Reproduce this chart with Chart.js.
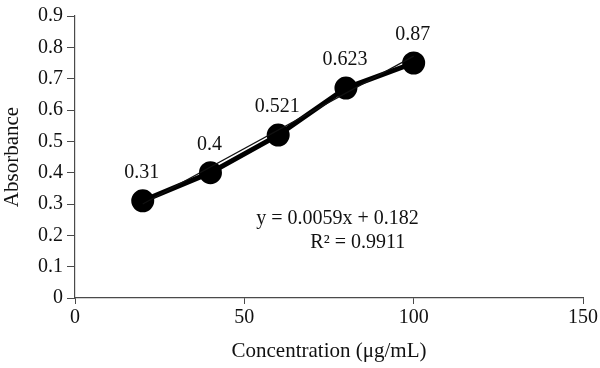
<!DOCTYPE html>
<html>
<head>
<meta charset="utf-8">
<script src="https://cdn.jsdelivr.net/npm/chart.js@4/dist/chart.umd.min.js"></script>
<style>
  html, body { margin: 0; padding: 0; background: #fff; }
  #wrap { width: 600px; height: 368px; }
</style>
</head>
<body>
<div id="wrap"><canvas id="chart"></canvas></div>
<script>
// Calibration curve: absorbance vs concentration, with linear trendline.
const concentration = [20, 40, 60, 80, 100];
const absorbance = [0.31, 0.40, 0.52, 0.67, 0.75];
const pointLabels = ['0.31', '0.4', '0.521', '0.623', '0.87'];
const trendSlope = 0.0059;
const trendIntercept = 0.182;
const equationLines = ['y = 0.0059x + 0.182', 'R² = 0.9911'];

const SERIF = '"Liberation Serif", "DejaVu Serif", serif';
const AXIS = '#4a4a4a';
const FONT_SIZE = 20;

const measured = concentration.map((x, i) => ({ x, y: absorbance[i] }));
const xFirst = concentration[0];
const xLast = concentration[concentration.length - 1];
const trend = [
  { x: xFirst, y: trendSlope * xFirst + trendIntercept },
  { x: xLast, y: trendSlope * xLast + trendIntercept },
];

// text above each point + the fitted equation
const annotate = {
  id: 'annotate',
  afterDatasetsDraw(chart) {
    const ctx = chart.ctx;
    const meta = chart.getDatasetMeta(1);
    ctx.save();
    ctx.fillStyle = '#111';
    ctx.font = FONT_SIZE + 'px ' + SERIF;
    ctx.textAlign = 'center';
    ctx.textBaseline = 'middle';
    meta.data.forEach((pt, i) => {
      ctx.fillText(pointLabels[i], pt.x - 1, pt.y - 28);
    });
    const xs = chart.scales.x, ys = chart.scales.y;
    ctx.textAlign = 'right';
    ctx.fillText(equationLines[0], xs.getPixelForValue(101.5), ys.getPixelForValue(0.252));
    ctx.fillText(equationLines[1], xs.getPixelForValue(97.5), ys.getPixelForValue(0.175));
    ctx.restore();
  },
};

new Chart(document.getElementById('chart'), {
  type: 'scatter',
  data: {
    datasets: [
      {
        data: trend,
        showLine: true,
        borderColor: '#111',
        borderWidth: 1.2,
        pointRadius: 0,
      },
      {
        data: measured,
        showLine: true,
        borderColor: '#000',
        borderWidth: 5,
        pointRadius: 9,
        pointBackgroundColor: '#000',
        pointBorderColor: '#000',
        tension: 0,
      },
    ],
  },
  options: {
    responsive: true,
    maintainAspectRatio: false,
    animation: false,
    events: [],
    layout: { padding: { top: 12, right: 16, left: 0, bottom: 0 } },
    plugins: { legend: { display: false }, tooltip: { enabled: false } },
    scales: {
      x: {
        type: 'linear',
        min: 0,
        max: 150,
        ticks: { stepSize: 50, color: '#111', font: { family: SERIF, size: FONT_SIZE }, padding: 2 },
        grid: { drawOnChartArea: false, drawTicks: true, tickLength: 6, color: AXIS },
        border: { display: true, color: AXIS, width: 1.2 },
        title: { display: true, text: 'Concentration (μg/mL)', color: '#111', font: { family: SERIF, size: 21 }, padding: { top: 4 } },
        afterFit: (s) => { s.height = 70; },
      },
      y: {
        min: 0,
        max: 0.9,
        ticks: {
          stepSize: 0.1,
          color: '#111',
          font: { family: SERIF, size: FONT_SIZE },
          padding: 4,
          callback: (v) => String(Number(v.toFixed(1))),
        },
        grid: { drawOnChartArea: false, drawTicks: true, tickLength: 8, color: AXIS },
        border: { display: true, color: AXIS, width: 1.2 },
        title: { display: true, text: 'Absorbance', color: '#111', font: { family: SERIF, size: 21 }, padding: 0 },
        afterFit: (s) => { s.width = 75; },
      },
    },
  },
  plugins: [annotate],
});
</script>
</body>
</html>
